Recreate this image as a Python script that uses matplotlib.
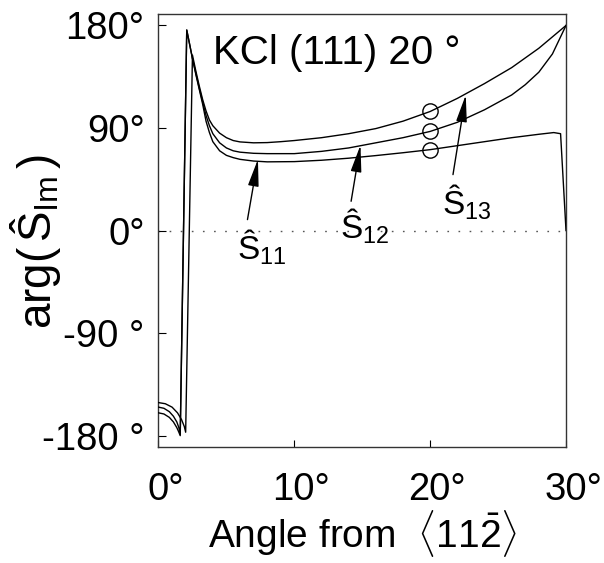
import matplotlib
matplotlib.use("Agg")
import matplotlib.pyplot as plt
from matplotlib.patches import FancyArrowPatch
from matplotlib.transforms import ScaledTranslation

plt.rcParams["font.family"] = ["Liberation Sans", "DejaVu Sans"]
plt.rcParams["mathtext.fontset"] = "custom"
plt.rcParams["mathtext.rm"] = "Liberation Sans"
plt.rcParams["mathtext.it"] = "Liberation Sans:italic"
plt.rcParams["mathtext.bf"] = "Liberation Sans:bold"

# ---------------------------------------------------------------------------
# Data (degrees)
# ---------------------------------------------------------------------------
s11_x = [0.0, 0.4, 0.8, 1.1, 1.35, 1.5, 1.6, 2.08, 2.3, 2.5, 2.75, 3.0, 3.25,
         3.5, 3.75, 4.0, 4.5, 5.0, 5.5, 6.0, 7.0, 8.0, 10.0, 12.0, 14.0, 16.0,
         18.0, 20.0, 22.0, 24.0, 26.0, 28.0, 29.1, 29.6, 30.0]
s11_y = [-160, -161, -164, -168, -173, -177, -180, 176, 163, 151, 137, 124, 111,
         96, 86, 78, 70, 66, 64, 62.5, 61, 60.3, 60.5, 61.7, 63.5, 65.8,
         68.3, 71, 74.5, 78, 81.5, 84.5, 86, 85, 0]

s12_x = [0.0, 0.4, 0.8, 1.1, 1.35, 1.5, 1.6, 2.08, 2.3, 2.5, 2.75, 3.0, 3.25,
         3.5, 3.75, 4.0, 4.5, 5.0, 5.5, 6.0, 7.0, 8.0, 10.0, 12.0, 14.0, 16.0,
         18.0, 20.0, 22.0, 24.0, 26.0, 27.0, 28.0, 29.0, 30.0]
s12_y = [-155, -156, -159, -163, -168, -173, -179, 176, 163, 151, 138, 125, 113,
         101, 92, 85, 77, 72.5, 70, 68.8, 67.8, 67.5, 67.5, 69.5, 72.5, 77,
         81.5, 87, 95, 106, 119, 128, 139, 155, 180]

s13_x = [0.0, 0.5, 1.0, 1.4, 1.7, 1.9, 2.0, 2.5, 2.75, 3.0, 3.25, 3.5, 3.75,
         4.0, 4.5, 5.0, 5.5, 6.0, 7.0, 8.0, 9.0, 10.0, 12.0, 14.0, 16.0, 18.0,
         20.0, 22.0, 24.0, 26.0, 28.0, 30.0]
s13_y = [-151, -152, -155, -160, -166, -172, -177, 154, 140, 127, 115, 105, 97,
         92, 85.5, 81.5, 79, 77.8, 77, 77.2, 78, 79, 81.5, 85, 89.5, 96,
         104.5, 116, 129, 143, 160, 180]

circle_x = [20, 20, 20]
circle_y = [71, 87, 104.5]

labels = [r"$\mathrm{Ŝ}_{\mathrm{11}}$",
          r"$\mathrm{Ŝ}_{\mathrm{12}}$",
          r"$\mathrm{Ŝ}_{\mathrm{13}}$"]
label_pos = [(5.77, -25.4), (13.39, -7.0), (20.9, 14.0)]
arrow_tail = [(6.55, 9.6), (14.18, 25.7), (21.68, 49.1)]
arrow_tip = [(7.32, 62.5), (14.87, 75.0), (22.62, 119.0)]

yticks = [-180, -90, 0, 90, 180]
ytick_labels = ["-180 °", "-90 °", "0°", "90°", "180°"]
xticks = [0, 10, 20, 30]
xtick_labels = ["0°", "10°", "20°", "30°"]

# ---------------------------------------------------------------------------
# Plot
# ---------------------------------------------------------------------------
fig = plt.figure(figsize=(6.04, 5.63), dpi=100)
ax = fig.add_axes([0.2624, 0.206, 0.6747, 0.769])

ax.axhline(0, color="#555555", lw=1.0, dashes=(1.2, 6.8), zorder=1)

for xs, ys in [(s11_x, s11_y), (s12_x, s12_y), (s13_x, s13_y)]:
    ax.plot(xs, ys, color="black", lw=1.0, zorder=3)

ax.plot(circle_x, circle_y, "o", ms=11, mfc="none", mec="black", mew=1.0, zorder=4)

for lab, pos, tail, tip in zip(labels, label_pos, arrow_tail, arrow_tip):
    ax.text(pos[0], pos[1], lab, fontsize=24, ha="left", va="baseline")
    arr = FancyArrowPatch(tail, tip, arrowstyle="-|>,head_length=1.1,head_width=0.22",
                          mutation_scale=15, color="black", lw=1.0, shrinkA=0, shrinkB=0,
                          zorder=5)
    ax.add_patch(arr)

ax.text(4.0, 146, "KCl (111) 20 °", fontsize=29, ha="left", va="baseline")

ax.set_xlim(0, 30)
ax.set_ylim(-190, 190)
ax.set_yticks(yticks)
ax.set_yticklabels(ytick_labels)
ax.set_xticks(xticks)
ax.set_xticklabels(xtick_labels)
ax.tick_params(axis="y", direction="in", length=6, width=0.8, labelsize=27.5, pad=10)
ax.tick_params(axis="x", direction="in", length=5, width=0.8, labelsize=27.5, pad=18)
# number centred on the tick, degree sign hanging to the right
for lab in ax.get_xticklabels():
    lab.set_transform(lab.get_transform() + ScaledTranslation(0.07, 0, fig.dpi_scale_trans))
for sp in ax.spines.values():
    sp.set_linewidth(1.0)
    sp.set_color("#333333")

ax.set_xlabel(r"Angle from  $\langle 11\bar{2}\rangle$", fontsize=28, labelpad=0)
ax.set_ylabel(r"arg($\,\mathrm{Ŝ}_{\mathrm{lm}}\,$)", fontsize=33)
ax.yaxis.set_label_coords(-0.235, 0.475)

fig.savefig("out.png", dpi=100, facecolor="white")
